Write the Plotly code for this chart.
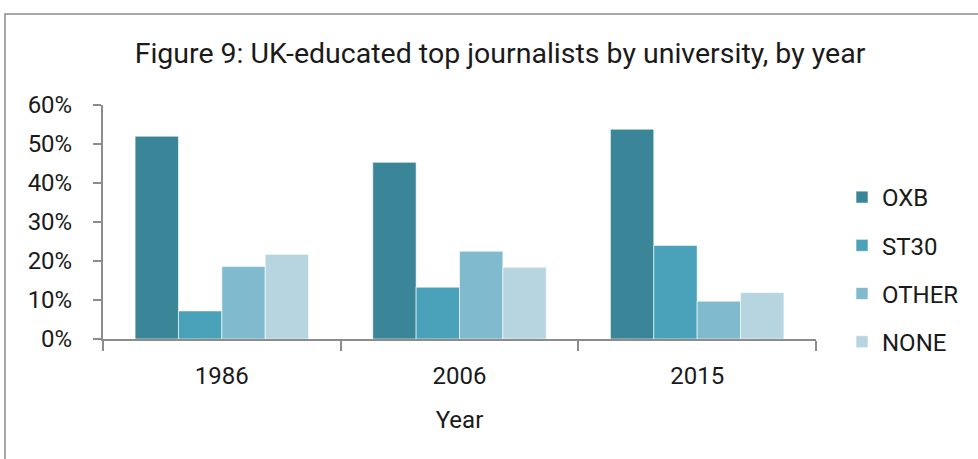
import plotly.graph_objects as go

years = ["1986", "2006", "2015"]
series_names = ["OXB", "ST30", "OTHER", "NONE"]
oxb = [0.52, 0.453, 0.538]
st30 = [0.072, 0.133, 0.240]
other = [0.186, 0.225, 0.097]
none_ = [0.217, 0.184, 0.119]
values = [oxb, st30, other, none_]
colors = ["#3A8597", "#4AA2BA", "#7FBACF", "#B6D5E0"]

W, H = 978, 459
L, R, T, B = 103, 162, 105, 120
pw, ph = W - L - R, H - T - B

fig = go.Figure()
for name, vals, col in zip(series_names, values, colors):
    fig.add_trace(go.Bar(
        x=years, y=vals, name=name, legendgroup=name,
        marker=dict(color=col, line=dict(color="rgba(255,255,255,0.6)", width=1)),
    ))

font = "Roboto, 'DejaVu Sans', sans-serif"
fig.update_layout(
    width=W, height=H,
    margin=dict(l=L, r=R, t=T, b=B, pad=0),
    paper_bgcolor="white", plot_bgcolor="white",
    barmode="group", bargap=0.27, bargroupgap=0,
    font=dict(family=font, size=24, color="#1a1a1a"),
    title=dict(text="Figure 9: UK-educated top journalists by university, by year",
               x=(500 - L) / pw, xref="paper", xanchor="center", y=1 - 53 / H, yanchor="middle",
               font=dict(size=28.5, color="#1a1a1a")),
    xaxis=dict(
        showline=True, linecolor="#8c8c8c", linewidth=2,
        ticks="outside", tickson="boundaries", ticklen=10, tickwidth=2, tickcolor="#8c8c8c",
        showgrid=False, tickfont=dict(size=24), ticklabelstandoff=14,
        title=dict(text="Year", font=dict(size=24), standoff=22),
    ),
    yaxis=dict(
        range=[0, 0.6], tickvals=[0, 0.1, 0.2, 0.3, 0.4, 0.5, 0.6], tickformat=".0%",
        showline=True, linecolor="#8c8c8c", linewidth=2,
        ticks="outside", ticklen=8, tickwidth=2, tickcolor="#8c8c8c",
        showgrid=False, zeroline=False, tickfont=dict(size=24), ticklabelstandoff=16,
    ),
    legend=dict(
        x=(842 - L) / pw, xanchor="left",
        y=(H - B - 175) / ph, yanchor="top",
        traceorder="grouped", tracegroupgap=14,
        font=dict(size=24, color="#1a1a1a"),
        bgcolor="rgba(0,0,0,0)",
    ),
    shapes=[dict(
        type="rect", xref="paper", yref="paper",
        x0=(5 - L) / pw, x1=(1000 - L) / pw,
        y0=-(480 - (H - B)) / ph, y1=((H - B) - 14) / ph,
        line=dict(color="#8c8c8c", width=1.5), fillcolor="rgba(0,0,0,0)", layer="below",
    )],
)

fig.write_html("out.html", config={"displayModeBar": False},
               post_script="document.body.style.margin='0';document.body.style.padding='0';")
